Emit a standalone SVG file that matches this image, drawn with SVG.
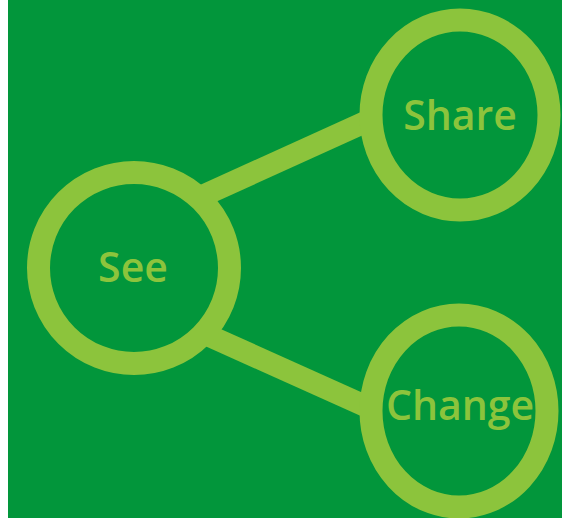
<svg xmlns="http://www.w3.org/2000/svg" width="562" height="518" viewBox="0 0 562 518">
<style>
.ring{fill:none;stroke:#8cc43c;stroke-width:23}
.link{stroke:#8cc43c;stroke-width:22;stroke-linecap:butt}
.lbl{font-family:"Open Sans","Noto Sans",sans-serif;font-weight:600;font-size:41px;fill:#8cc43c;text-anchor:middle}
</style>
<rect x="0" y="0" width="562" height="518" fill="#ffffff"/>
<rect x="8" y="0" width="554" height="518" fill="#02963b"/>
<g id="connectors">
<line class="link" x1="200" y1="197" x2="372" y2="119"/>
<line class="link" x1="205" y1="334" x2="372" y2="409"/>
</g>
<g id="see">
<circle class="ring" cx="134" cy="268" r="95.5"/>
<text class="lbl" x="133" y="282">See</text>
</g>
<g id="share">
<ellipse class="ring" cx="460" cy="115" rx="89" ry="95"/>
<text class="lbl" x="460" y="130">Share</text>
</g>
<g id="change">
<ellipse class="ring" cx="459" cy="411" rx="88" ry="96"/>
<text class="lbl" x="460" y="420">Change</text>
</g>
</svg>
